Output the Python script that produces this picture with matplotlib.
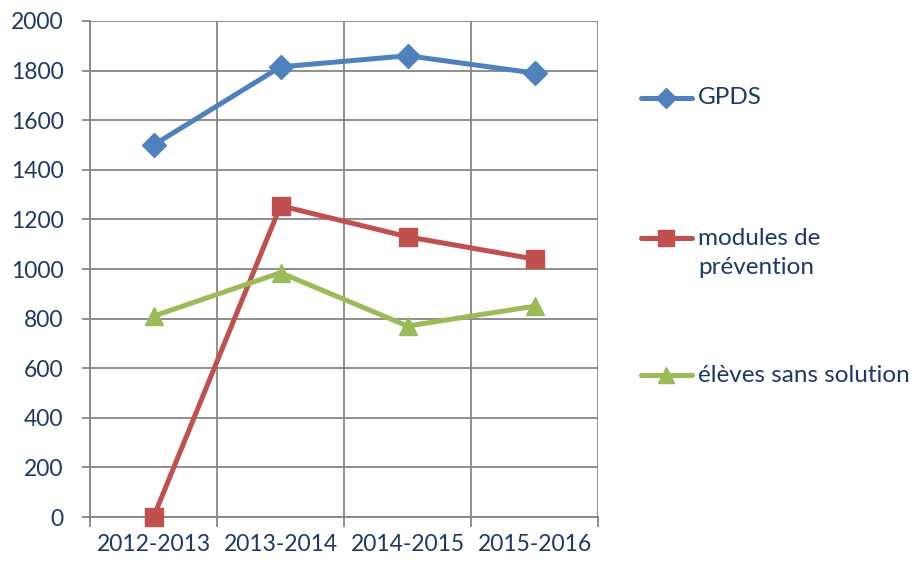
import matplotlib.pyplot as plt
from matplotlib.lines import Line2D

# data
years = ['2012-2013', '2013-2014', '2014-2015', '2015-2016']
gpds = [1500, 1815, 1860, 1790]
modules = [0, 1255, 1130, 1040]
eleves = [810, 985, 770, 850]

text_color = '#1F3864'
grid_color = '#868686'
plt.rcParams['font.family'] = ['Lato', 'DejaVu Sans']

fig = plt.figure(figsize=(9.16, 5.63), dpi=100)
ax = fig.add_axes([0.0983, 0.0817, 0.5546, 0.881])

x = range(len(years))
series = [
    (gpds, '#4F81BD', 'D', 12, 'GPDS'),
    (modules, '#C0504D', 's', 13, 'modules de\nprévention'),
    (eleves, '#9BBB59', '^', 13, 'élèves sans solution'),
]
for vals, col, mk, ms, lab in series:
    ax.plot(x, vals, color=col, lw=3.6, marker=mk, markersize=ms,
            solid_capstyle='round', clip_on=False, zorder=3)

ax.set_xlim(-0.5, len(years) - 0.5)
ax.set_ylim(0, 2000)
ax.set_yticks(range(0, 2001, 200))
ax.set_xticks([i - 0.5 for i in range(len(years) + 1)])
ax.set_xticklabels([])
ax.set_xticks(list(x), minor=True)
ax.set_xticklabels(years, minor=True)
ax.tick_params(axis='x', which='minor', length=0, pad=12, labelsize=16.5, labelcolor=text_color)
ax.tick_params(axis='x', which='major', length=7, width=1.3, color=grid_color)
ax.tick_params(axis='y', length=6, width=1.3, color=grid_color, pad=13,
               labelsize=16.5, labelcolor=text_color)
ax.grid(True, axis='both', which='major', color=grid_color, lw=1.3)
ax.set_axisbelow(True)
for s in ['top', 'right']:
    ax.spines[s].set_visible(False)
for s in ['left', 'bottom']:
    ax.spines[s].set_color(grid_color)
    ax.spines[s].set_linewidth(1.3)

# legend entries placed by hand to the right of the plot
W, H = 916, 563
legend_y = [98, 238, 375]
for (vals, col, mk, ms, lab), yp in zip(series, legend_y):
    yf = 1 - yp / H
    fig.add_artist(Line2D([641 / W, 692 / W], [yf, yf], color=col, lw=3.6,
                          solid_capstyle='round', transform=fig.transFigure))
    fig.add_artist(Line2D([666 / W], [yf], color=col, marker=mk, markersize=ms - 2,
                          transform=fig.transFigure))
    if '\n' in lab:
        fig.text(698 / W, 1 - (yp - 10) / H, lab, color=text_color, fontsize=17.5,
                 va='top', ha='left', linespacing=1.45)
    else:
        fig.text(698 / W, yf, lab, color=text_color, fontsize=17.5, va='center', ha='left')

plt.savefig('out.png', dpi=100)
